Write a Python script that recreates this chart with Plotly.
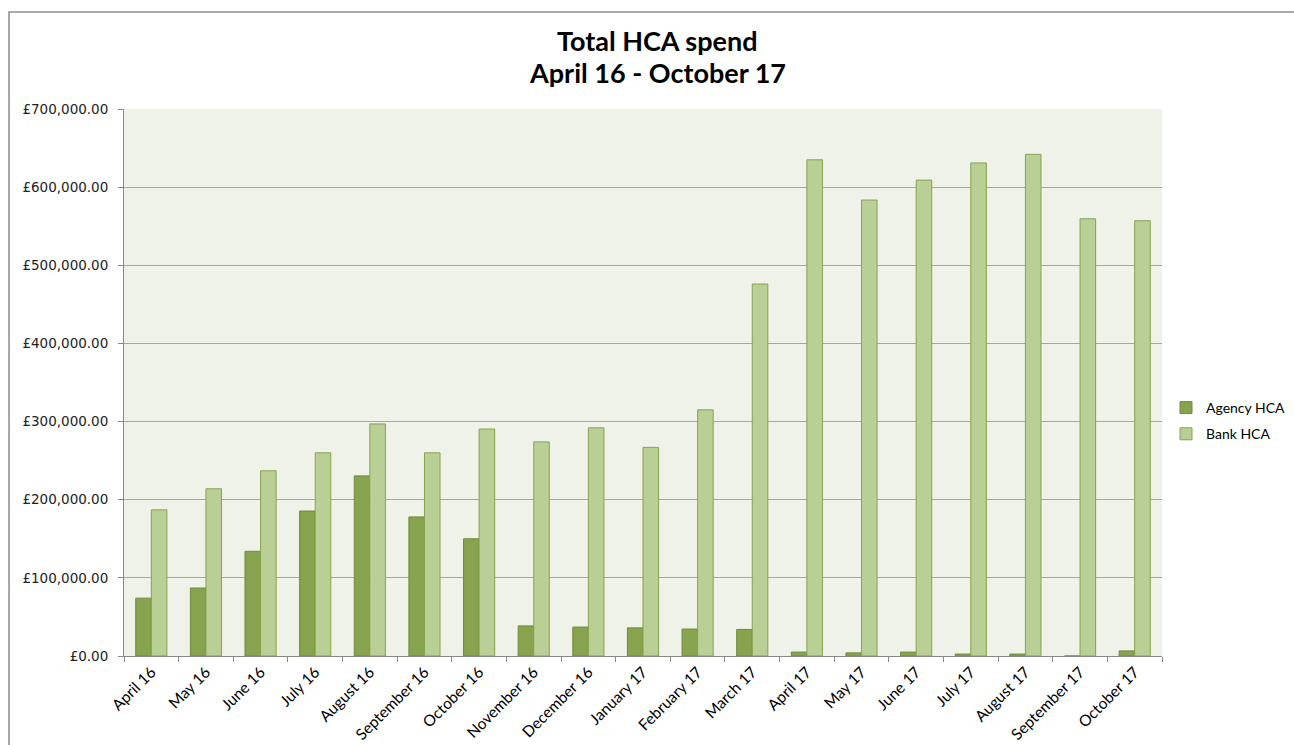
import plotly.graph_objects as go

months = ["April 16", "May 16", "June 16", "July 16", "August 16", "September 16",
          "October 16", "November 16", "December 16", "January 17", "February 17",
          "March 17", "April 17", "May 17", "June 17", "July 17", "August 17",
          "September 17", "October 17"]
agency_hca = [74000, 87000, 134000, 185500, 230500, 178000, 150000, 38500, 37000,
              36000, 34500, 34000, 5000, 4000, 5000, 2500, 2500, 0, 6500]
bank_hca = [187000, 214000, 237000, 260000, 297000, 260000, 290500, 274000, 292000,
            267000, 315000, 476000, 635000, 583500, 609000, 631000, 642000, 559500, 557000]
y_ticks = [0, 100000, 200000, 300000, 400000, 500000, 600000, 700000]
y_labels = ["£{:,.2f}".format(v) for v in y_ticks]
title_lines = ["Total HCA spend", "April 16 - October 17"]

W, H = 1294, 745
L, R, T, B = 124, 132, 109, 89
pw, ph = W - L - R, H - T - B

def px(x):
    return (x - L) / pw

def py(y):
    return (H - B - y) / ph

fig = go.Figure()
fig.add_trace(go.Bar(name="Agency HCA", x=months, y=agency_hca, legendgroup="a",
                     marker=dict(color="#87A34D", line=dict(color="#6E8A3A", width=1))))
fig.add_trace(go.Bar(name="Bank HCA", x=months, y=bank_hca, legendgroup="b",
                     marker=dict(color="#B9CF96", line=dict(color="#87A34D", width=1))))

fig.update_layout(
    width=W, height=H,
    margin=dict(l=L, r=R, t=T, b=B, autoexpand=False),
    paper_bgcolor="white",
    plot_bgcolor="#EFF2E9",
    barmode="group",
    bargap=0.43,
    bargroupgap=0,
    font=dict(family="Lato", size=12, color="#000000"),
    legend=dict(x=px(1166), xanchor="left", y=py(421), yanchor="middle",
                font=dict(family="Lato", size=14), itemwidth=30,
                bgcolor="rgba(0,0,0,0)", tracegroupgap=5),
    showlegend=True,
)
for i, (line, ypix) in enumerate(zip(title_lines, [41, 73])):
    fig.add_annotation(text="<b>" + line + "</b>", xref="paper", yref="paper",
                       x=px(657), y=py(ypix), xanchor="center", yanchor="middle",
                       showarrow=False,
                       font=dict(family="Lato", size=27, color="#000000"))
fig.update_xaxes(
    showgrid=False, showline=True, linecolor="#888888", linewidth=1,
    ticks="outside", tickson="boundaries", ticklen=5, tickcolor="#888888",
    tickangle=-45, tickfont=dict(family="Lato", size=15.5),
)
fig.update_yaxes(
    range=[0, 700000], tickvals=y_ticks, ticktext=y_labels,
    showgrid=True, gridcolor="#A6A6A6", gridwidth=1,
    showline=True, linecolor="#888888", linewidth=1,
    ticks="outside", ticklen=5, tickcolor="#888888", ticklabelstandoff=7,
    tickfont=dict(family="DejaVu Sans", size=13.5, color="#222222"),
    zeroline=False,
)
fig.add_shape(type="rect", xref="paper", yref="paper",
              x0=px(9), x1=px(1310), y0=py(760), y1=py(12),
              line=dict(color="#8C8C8C", width=1.5), fillcolor="rgba(0,0,0,0)", layer="below")

fig.write_html("out.html")
